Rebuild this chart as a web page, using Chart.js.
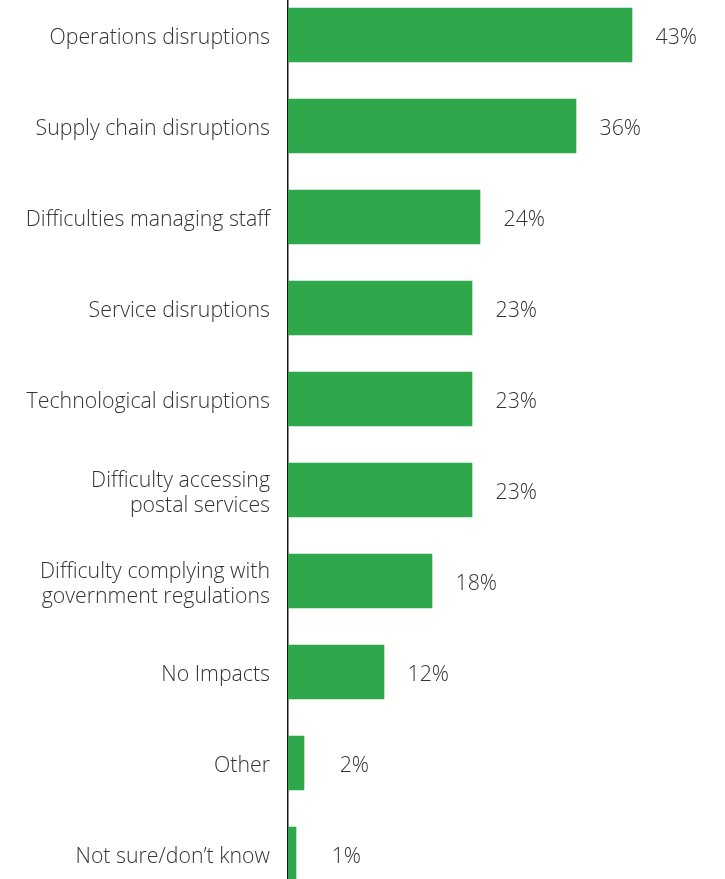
<!DOCTYPE html>
<html>
<head>
<meta charset="utf-8">
<script src="https://cdn.jsdelivr.net/npm/chart.js@4/dist/chart.umd.min.js"></script>
<style>
  html, body { margin: 0; padding: 0; background: #fff; overflow: hidden; }
  body { width: 725px; height: 879px; position: relative; }
  /* a área do gráfico começa um pouco acima da página e termina abaixo dela */
  #grafico_impactos { position: absolute; left: 0; top: -41px; }
</style>
</head>
<body>
<canvas id="grafico_impactos" width="725" height="971"></canvas>
<script>
// Categorias e percentuais
const categorias = [
    'Operations disruptions',
    'Supply chain disruptions',
    'Difficulties managing staff',
    'Service disruptions',
    'Technological disruptions',
    ['Difficulty accessing', 'postal services'],
    ['Difficulty complying with', 'government regulations'],
    'No Impacts',
    'Other',
    'Not sure/don\u2019t know'
];
const percentuais = [43, 36, 24, 23, 23, 23, 18, 12, 2, 1];

const corBarra = '#2fa84b';
const corTexto = '#333333';
const fonte = "'Open Sans', 'Noto Sans', sans-serif";

// Escreve o percentual ao lado de cada barra
const rotulosValor = {
    id: 'rotulosValor',
    afterDatasetsDraw(chart) {
        const ctx = chart.ctx;
        const meta = chart.getDatasetMeta(0);
        ctx.save();
        ctx.font = `300 21.3px ${fonte}`;
        ctx.fillStyle = corTexto;
        ctx.textAlign = 'right';
        ctx.textBaseline = 'middle';
        meta.data.forEach((barra, i) => {
            ctx.fillText(percentuais[i] + '%', barra.x + 65, barra.y + 3);
        });
        ctx.restore();
    }
};

const ctx = document.getElementById('grafico_impactos').getContext('2d');
new Chart(ctx, {
    type: 'bar',
    data: {
        labels: categorias,
        datasets: [{
            data: percentuais,
            backgroundColor: corBarra,
            borderWidth: 0,
            barThickness: 54
        }]
    },
    options: {
        indexAxis: 'y',
        responsive: false,
        animation: false,
        layout: { padding: { left: 0, right: 37, top: 0, bottom: 0 } },
        plugins: { legend: { display: false }, tooltip: { enabled: false } },
        scales: {
            x: { display: false, min: 0, max: 50 },
            y: {
                afterFit(scale) { scale.width = 288; },
                grid: { display: false, drawTicks: false },
                border: { display: true, color: '#1a1a1a', width: 1.5 },
                ticks: {
                    padding: 18,
                    labelOffset: 3,
                    color: corTexto,
                    font: { family: fonte, size: 21.3, weight: '300', lineHeight: 1.17 }
                }
            }
        }
    },
    plugins: [rotulosValor]
});
</script>
</body>
</html>
